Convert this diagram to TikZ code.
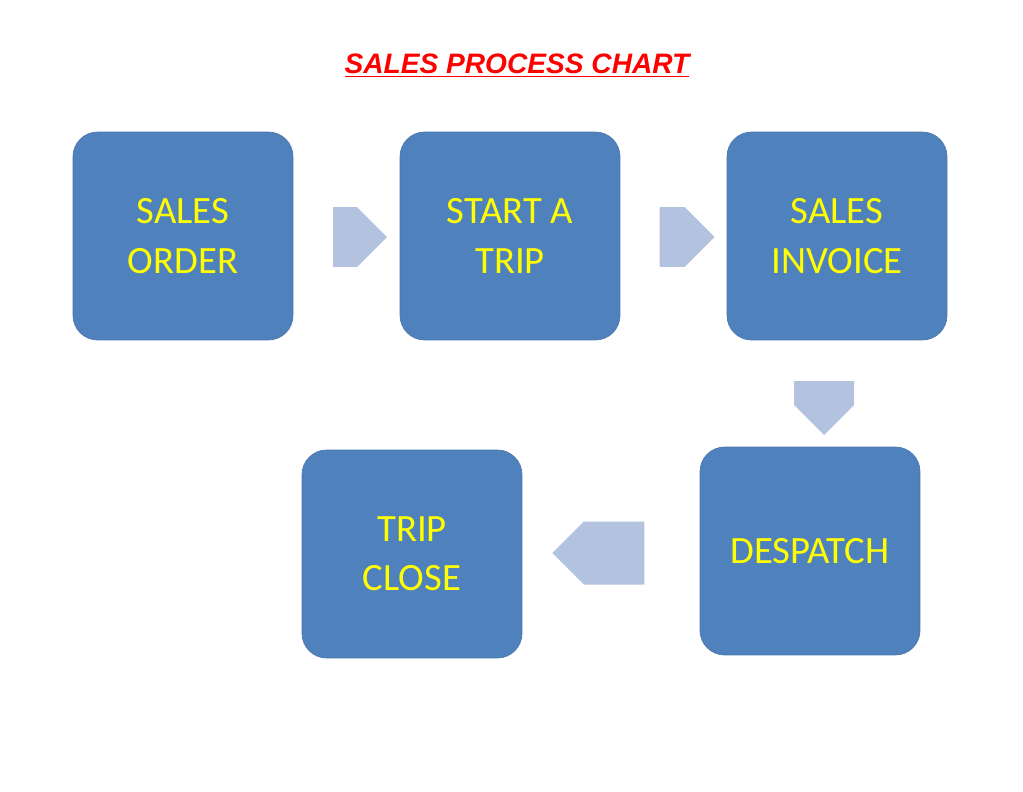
\documentclass[tikz,border=0pt]{standalone}
\usepackage{fontspec}
\setmainfont{Carlito}
\newfontfamily\titlefont{Liberation Sans}
\usetikzlibrary{shapes.arrows}
\definecolor{boxblue}{HTML}{4F81BD}
\definecolor{boxedge}{HTML}{4A76AD}
\definecolor{arrowblue}{HTML}{B3C3DF}
\definecolor{textyellow}{HTML}{FFFF00}
\tikzset{
  stage/.style={draw=boxedge, fill=boxblue, rounded corners=14pt, minimum width=4.4cm,
    minimum height=4.16cm, text=textyellow, align=center, font=\fontsize{22}{28}\selectfont},
  flow/.style={single arrow, fill=arrowblue, draw=none, minimum height=#1,
    minimum width=1.2cm, single arrow head extend=0cm, inner sep=0pt}
}
\begin{document}
\begin{tikzpicture}[x=0.02cm, y=-0.02cm]
  \useasboundingbox (0,0) rectangle (1023,791);
  % title
  \node (title) at (517,66) {\titlefont\fontsize{16}{19}\selectfont\bfseries\itshape\color{red}\underline{SALES PROCESS CHART}};
  % stages
  \node[stage] (order) at (183,236) {SALES\\ORDER};
  \node[stage] (trip) at (510,236) {START A\\TRIP};
  \node[stage] (invoice) at (837,236) {SALES\\INVOICE};
  \node[stage] (despatch) at (810,551) {DESPATCH};
  \node[stage] (close) at (412,554) {TRIP\\CLOSE};
  % arrows
  \node[flow=1.08cm] (a1) at (345,237) {};
  \node[flow=1.1cm] (a2) at (672,237) {};
  \node[flow=1.08cm, rotate=-90] (a3) at (824,393) {};
  \node[flow=1.84cm, rotate=180, minimum width=1.26cm] (a4) at (614,553) {};
\end{tikzpicture}
\end{document}
